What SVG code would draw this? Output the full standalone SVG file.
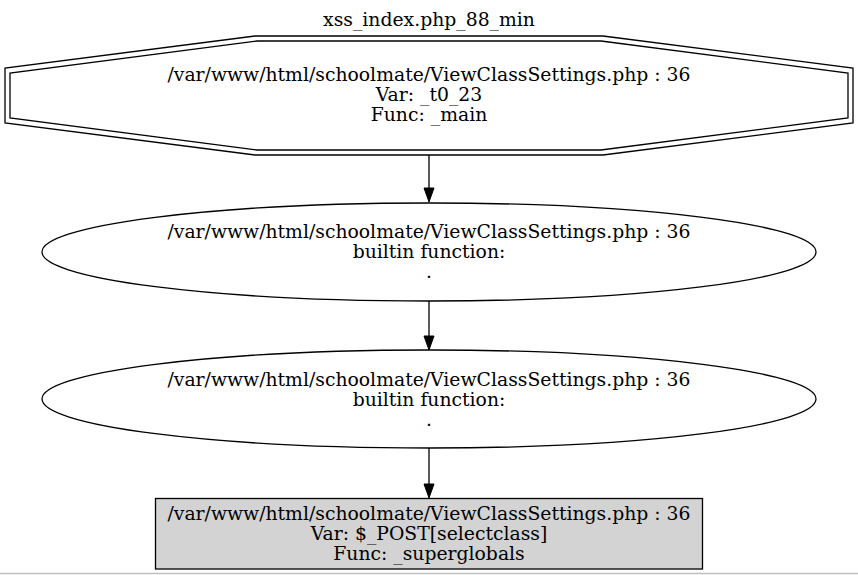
<svg xmlns="http://www.w3.org/2000/svg" width="858" height="575" viewBox="0 0 858 575">
<defs>
<style>
text{font-family:"DejaVu Serif","Liberation Serif",serif;font-size:18.8px;fill:#000;text-anchor:middle}
.n{fill:none;stroke:#000;stroke-width:1.3}
.e{fill:none;stroke:#000;stroke-width:1.3}
</style>
</defs>
<rect x="0" y="0" width="858" height="575" fill="#fff"/>
<text x="429" y="26">xss_index.php_88_min</text>
<g id="edges">
<path class="e" d="M429,155 V188" />
<path d="M424,188 L429,202 L434,188 Z" fill="#000" stroke="#000"/>
<path class="e" d="M429,301 V336" />
<path d="M424,336 L429,350 L434,336 Z" fill="#000" stroke="#000"/>
<path class="e" d="M429,448 V484" />
<path d="M424,484 L429,498 L434,484 Z" fill="#000" stroke="#000"/>
</g>
<g id="node1">
<polygon class="n" points="255,36 603,36 853,68 853,123 603,155 255,155 5,123 5,68"/>
<polygon class="n" points="257,41 601,41 848,73 848,118 601,150 257,150 10,118 10,73"/>
<text x="429" y="81">/var/www/html/schoolmate/ViewClassSettings.php : 36</text>
<text x="429" y="101">Var: _t0_23</text>
<text x="429" y="121">Func: _main</text>
</g>
<g id="node2">
<ellipse class="n" cx="429" cy="252" rx="387" ry="49"/>
<text x="429" y="238">/var/www/html/schoolmate/ViewClassSettings.php : 36</text>
<text x="429" y="258">builtin function:</text>
<text x="429" y="278">.</text>
</g>
<g id="node3">
<ellipse class="n" cx="429" cy="399" rx="387" ry="49"/>
<text x="429" y="386">/var/www/html/schoolmate/ViewClassSettings.php : 36</text>
<text x="429" y="406">builtin function:</text>
<text x="429" y="426">.</text>
</g>
<g id="node4">
<rect x="155.5" y="498.5" width="547" height="70.5" fill="#d3d3d3" stroke="#000" stroke-width="1.3"/>
<text x="429" y="520">/var/www/html/schoolmate/ViewClassSettings.php : 36</text>
<text x="429" y="540">Var: $_POST[selectclass]</text>
<text x="429" y="560">Func: _superglobals</text>
</g>
<line x1="0" y1="573.5" x2="858" y2="573.5" stroke="#c0c0c0" stroke-width="1.5"/>
</svg>
